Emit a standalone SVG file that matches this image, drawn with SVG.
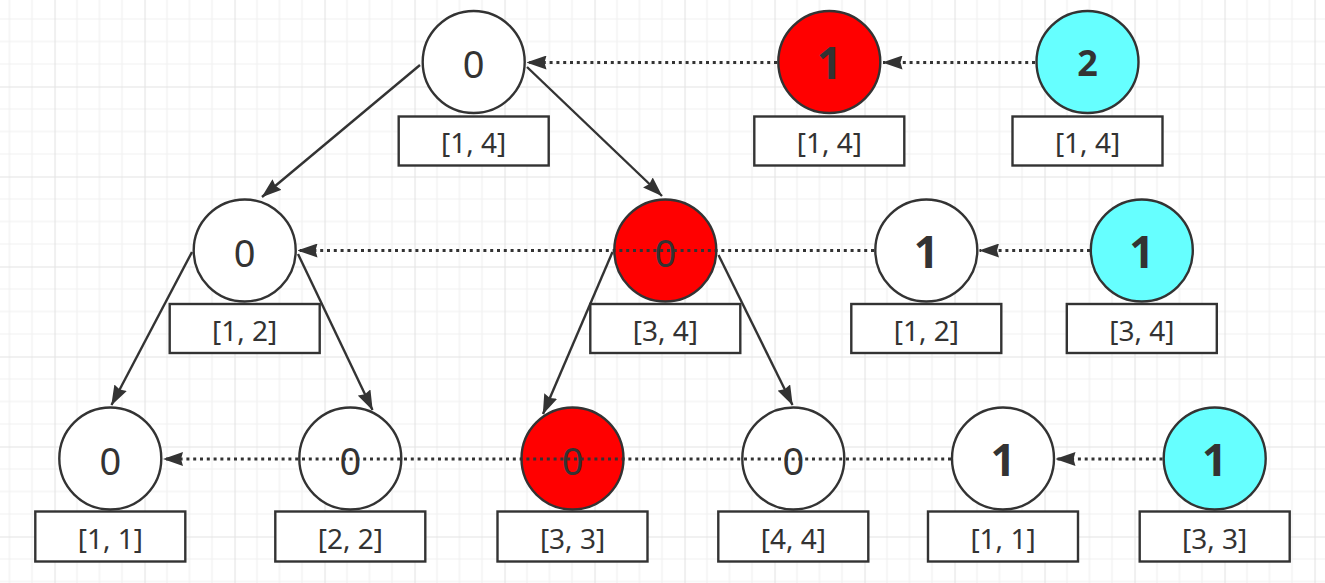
<svg xmlns="http://www.w3.org/2000/svg" width="1325" height="583" viewBox="0 0 1325 583">
<defs>
<pattern id="grid" x="54.5" y="-3.5" width="90" height="90" patternUnits="userSpaceOnUse">
<path d="M22.5 0V90M45 0V90M67.5 0V90M0 22.5H90M0 45H90M0 67.5H90" stroke="#f0f0f0" stroke-width="1.2" fill="none"/>
<path d="M0.5 0V90M0 0.5H90" stroke="#e3e3e3" stroke-width="1.2" fill="none"/>
</pattern>
<marker id="arr" markerUnits="userSpaceOnUse" viewBox="0 0 20 14" markerWidth="20" markerHeight="14" refX="19.5" refY="7" orient="auto">
<path d="M0,0 L20,7 L0,14 L2,7 Z" fill="#333"/>
</marker>
</defs>
<style>
.c{stroke:#333;stroke-width:2.4}
.w{fill:#fff}.r{fill:#ff0000}.b{fill:#66ffff}
.box{fill:#fff;stroke:#333;stroke-width:2.4}
.lbl{font-family:"Noto Sans","Open Sans","DejaVu Sans",sans-serif;font-size:28px;fill:#333;text-anchor:middle}
.n{font-family:"Noto Sans","Open Sans","DejaVu Sans",sans-serif;font-size:38px;fill:#333;text-anchor:middle}
.nb{font-family:"Noto Sans","Open Sans","DejaVu Sans",sans-serif;font-size:44px;font-weight:bold;fill:#333;text-anchor:middle}
.e{stroke:#333;stroke-width:2.4;fill:none;marker-end:url(#arr)}
.d{stroke:#333;stroke-width:3;fill:none;stroke-dasharray:3 3.8;marker-end:url(#arr)}
</style>
<rect width="1325" height="583" fill="#fff"/>
<rect width="1325" height="583" fill="url(#grid)"/>

<g id="n1"><circle class="c w" cx="473.7" cy="62" r="51"/><rect class="box" x="398.7" y="116.5" width="150" height="49"/><text class="n" x="473.7" y="78">0</text><text class="lbl" x="473.7" y="153">[1, 4]</text></g>
<g id="n2"><circle class="c r" cx="829.3" cy="62" r="51"/><rect class="box" x="754.3" y="116.5" width="150" height="49"/><text class="nb" x="829.3" y="79">1</text><text class="lbl" x="829.3" y="153">[1, 4]</text></g>
<g id="n3"><circle class="c b" cx="1087.5" cy="62" r="51"/><rect class="box" x="1012.5" y="116.5" width="150" height="49"/><text class="nb" x="1087.5" y="76" style="font-size:36px">2</text><text class="lbl" x="1087.5" y="153">[1, 4]</text></g>

<g id="n4"><circle class="c w" cx="244.7" cy="250.5" r="51"/><rect class="box" x="169.7" y="304" width="150" height="49"/><text class="n" x="244.7" y="266.5">0</text><text class="lbl" x="244.7" y="341">[1, 2]</text></g>
<g id="n5"><circle class="c r" cx="665.3" cy="250.5" r="51"/><rect class="box" x="590.3" y="304" width="150" height="49"/><text class="n" x="665.3" y="266.5">0</text><text class="lbl" x="665.3" y="341">[3, 4]</text></g>
<g id="n6"><circle class="c w" cx="926.3" cy="250.5" r="51"/><rect class="box" x="851.3" y="304" width="150" height="49"/><text class="nb" x="926.3" y="268">1</text><text class="lbl" x="926.3" y="341">[1, 2]</text></g>
<g id="n7"><circle class="c b" cx="1141.8" cy="250.5" r="51"/><rect class="box" x="1066.8" y="304" width="150" height="49"/><text class="nb" x="1141.8" y="268">1</text><text class="lbl" x="1141.8" y="341">[3, 4]</text></g>

<g id="n8"><circle class="c w" cx="110.3" cy="458.5" r="51"/><rect class="box" x="35.3" y="511.5" width="150" height="50"/><text class="n" x="110.3" y="475">0</text><text class="lbl" x="110.3" y="549">[1, 1]</text></g>
<g id="n9"><circle class="c w" cx="350.3" cy="458.5" r="51"/><rect class="box" x="275.3" y="511.5" width="150" height="50"/><text class="n" x="350.3" y="475">0</text><text class="lbl" x="350.3" y="549">[2, 2]</text></g>
<g id="n10"><circle class="c r" cx="572.5" cy="458.5" r="51"/><rect class="box" x="497.5" y="511.5" width="150" height="50"/><text class="n" x="572.5" y="475">0</text><text class="lbl" x="572.5" y="549">[3, 3]</text></g>
<g id="n11"><circle class="c w" cx="793.3" cy="458.5" r="51"/><rect class="box" x="718.3" y="511.5" width="150" height="50"/><text class="n" x="793.3" y="475">0</text><text class="lbl" x="793.3" y="549">[4, 4]</text></g>
<g id="n12"><circle class="c w" cx="1003" cy="458.5" r="51"/><rect class="box" x="928" y="511.5" width="150" height="50"/><text class="nb" x="1003" y="476">1</text><text class="lbl" x="1003" y="549">[1, 1]</text></g>
<g id="n13"><circle class="c b" cx="1214.7" cy="458.5" r="51"/><rect class="box" x="1139.7" y="511.5" width="150" height="50"/><text class="nb" x="1214.7" y="476">1</text><text class="lbl" x="1214.7" y="549">[3, 3]</text></g>

<g id="connectors">
<line class="e" x1="420" y1="65" x2="262" y2="197"/>
<line class="e" x1="527" y1="67" x2="662" y2="196"/>
<line class="e" x1="192" y1="252" x2="111.5" y2="405"/>
<line class="e" x1="298" y1="254" x2="372.5" y2="410"/>
<line class="e" x1="612.5" y1="252" x2="543" y2="414"/>
<line class="e" x1="718.5" y1="255" x2="792.5" y2="405"/>
<line class="d" x1="777" y1="62.5" x2="527" y2="62.5"/>
<line class="d" x1="1035" y1="62.5" x2="883" y2="62.5"/>
<line class="d" x1="874" y1="250.5" x2="298" y2="250.5"/>
<line class="d" x1="1090" y1="250.5" x2="979.5" y2="250.5"/>
<line class="d" x1="951" y1="459" x2="163.5" y2="459"/>
<line class="d" x1="1162.5" y1="459" x2="1056" y2="459"/>
</g>
</svg>
